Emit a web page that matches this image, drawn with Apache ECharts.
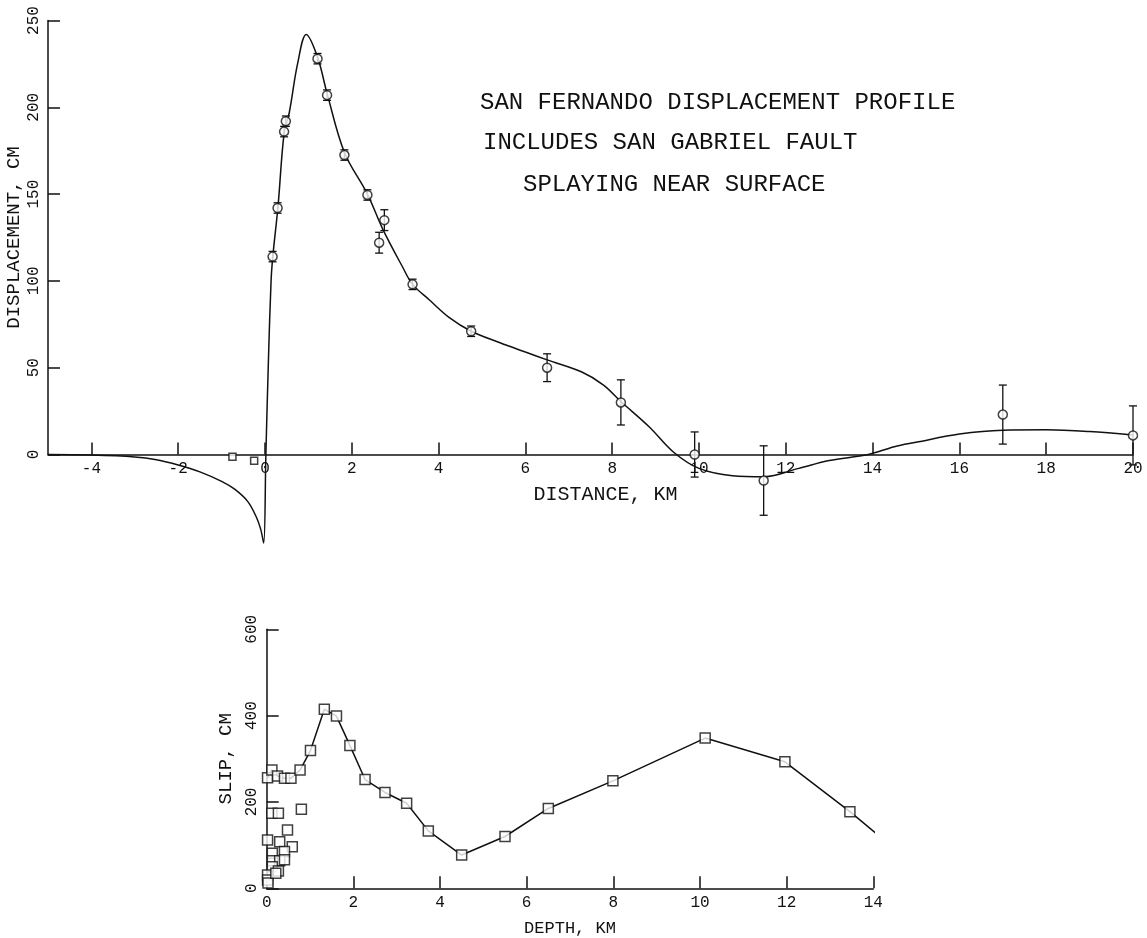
<!DOCTYPE html>
<html>
<head>
<meta charset="utf-8">
<title>San Fernando displacement profile</title>
<script src="https://cdn.jsdelivr.net/npm/echarts@6/dist/echarts.min.js"></script>
<style>
  html, body { margin: 0; padding: 0; background: #fff; }
  #chart { width: 1147px; height: 938px; }
</style>
</head>
<body>
<div id="chart"></div>
<script>
// --- data ---
// observed surface displacement (km, cm, +/- cm)
const obsX   = [0.175, 0.29, 0.44, 0.48, 1.21, 1.43, 1.83, 2.36, 2.63, 2.75, 3.4, 4.75, 6.5, 8.2, 9.9, 11.49, 17.0, 20.0]
const obsY   = [114, 142, 186, 192, 228, 207, 172.5, 149.5, 122, 135, 98, 71, 50, 30, 0, -15, 23, 11]
const obsErr = [3, 3, 3, 3, 3, 3, 3, 3, 6, 6, 3, 3, 8, 13, 13, 20, 17, 17]

// two small square points left of the fault
const hangX = [-0.75, -0.25]
const hangY = [-1.3, -3.6]

// computed profile
const curveX = [-5, -4, -3, -2.5, -2, -1.5, -1, -0.7, -0.4, -0.2, -0.1, -0.03, 0.02, 0.08, 0.14, 0.18, 0.3, 0.44, 0.56, 0.75, 0.95,
  1.21, 1.43, 1.83, 2.36, 2.71, 3.17, 3.4, 3.79, 4.24, 4.75, 5.4, 6.0, 6.5, 7.3, 7.8, 8.2, 8.85, 9.43, 10, 10.77, 11.5, 12.3, 13, 13.9,
  14.5, 15, 16, 17, 18, 19, 20]
const curveY = [0, -0.3, -1.4, -3, -6, -10, -15.5, -20, -27, -36, -43, -51, 0, 55, 100, 114, 143, 185, 197, 225, 242,
  229, 208, 174, 150, 130, 108, 98, 89, 79, 71, 64.5, 59, 54.5, 47.5, 40, 30.5, 16, 1, -8, -12.2, -12.8, -8, -3.5, 0,
  4.5, 7, 11.8, 14, 14.2, 13.2, 11.2]

// slip vs depth, connected points
const slipDepth = [0.02, 0.12, 0.25, 0.41, 0.56, 0.77, 1.01, 1.33, 1.61, 1.92, 2.27, 2.73, 3.23, 3.73, 4.5, 5.5, 6.5, 7.99, 10.12, 11.96, 13.46]
const slipCm    = [256, 274, 260, 255, 255, 274, 319, 415, 399, 331, 252, 222, 197, 133, 77, 120, 185, 249, 348, 293, 177.5]
const slipEndDepth = 14.2, slipEndCm = 116

// loose slip points near the surface
const looseDepth = [0.12, 0.27, 0.8, 0.02, 0.48, 0.3, 0.59, 0.13, 0.41, 0.13, 0.3, 0.41, 0.13, 0.27, 0.02, 0.02, 0.03, 0.21]
const looseCm    = [174, 174, 183, 112, 135, 108, 96, 81, 85, 64, 64, 66, 50, 40, 31, 19, 12, 35]

const distTicks  = [-4, -2, 0, 2, 4, 6, 8, 10, 12, 14, 16, 18, 20]

const FONT = 'Liberation Mono'
const INK = '#111'

let chart = echarts.init(document.getElementById('chart'))

function zip(a, b) {
  let out = []
  for (let i = 0; i < a.length; i++) out.push([a[i], b[i]])
  return out
}

// error bars drawn through the axis scale
function errorBar(params, api) {
  const x = api.value(0), y = api.value(1), e = api.value(2)
  const hi = api.coord([x, y + e])
  const lo = api.coord([x, y - e])
  const w = 4
  const st = { stroke: INK, lineWidth: 1.3 }
  return {
    type: 'group',
    children: [
      { type: 'line', shape: { x1: hi[0], y1: hi[1], x2: lo[0], y2: lo[1] }, style: st },
      { type: 'line', shape: { x1: hi[0] - w, y1: hi[1], x2: hi[0] + w, y2: hi[1] }, style: st },
      { type: 'line', shape: { x1: lo[0] - w, y1: lo[1], x2: lo[0] + w, y2: lo[1] }, style: st }
    ]
  }
}

const axisLine = { onZero: false, lineStyle: { color: INK, width: 1.5 } }
const tick = { inside: true, length: 12, lineStyle: { color: INK, width: 1.5 } }
const lbl = { color: INK, fontFamily: FONT, fontSize: 16 }

let option = {
  backgroundColor: '#fff',
  animation: false,
  grid: [
    { left: 48, right: 14, top: 20.5, bottom: 483.5, containLabel: false, outerBoundsMode: 'none' },
    { left: 266.7, right: 273.7, top: 629.3, bottom: 49.7, containLabel: false, outerBoundsMode: 'none' }
  ],
  xAxis: [
    {
      gridIndex: 0, type: 'value', min: -5, max: 20,
      name: 'DISTANCE, KM', nameLocation: 'middle', nameGap: 30,
      nameTextStyle: { color: INK, fontFamily: FONT, fontSize: 20, padding: [0, 0, 0, 30] },
      axisLine: axisLine,
      axisTick: Object.assign({ customValues: distTicks }, tick),
      axisLabel: Object.assign({ customValues: distTicks, margin: 6 }, lbl),
      splitLine: { show: false }
    },
    {
      gridIndex: 1, type: 'value', min: 0, max: 14, interval: 2,
      name: 'DEPTH, KM', nameLocation: 'middle', nameGap: 32,
      nameTextStyle: { color: INK, fontFamily: FONT, fontSize: 17 },
      axisLine: axisLine,
      axisTick: tick,
      axisLabel: Object.assign({ margin: 6 }, lbl),
      splitLine: { show: false }
    }
  ],
  yAxis: [
    {
      gridIndex: 0, type: 'value', min: 0, max: 250, interval: 50,
      name: 'DISPLACEMENT, CM', nameLocation: 'middle', nameRotate: 90, nameGap: 25,
      nameMoveOverlap: false,
      nameTextStyle: { color: INK, fontFamily: FONT, fontSize: 19 },
      axisLine: axisLine,
      axisTick: tick,
      axisLabel: Object.assign({ rotate: 90, margin: 6 }, lbl),
      splitLine: { show: false }
    },
    {
      gridIndex: 1, type: 'value', min: 0, max: 600, interval: 200,
      name: 'SLIP, CM', nameLocation: 'middle', nameRotate: 90, nameGap: 30,
      nameTextStyle: { color: INK, fontFamily: FONT, fontSize: 19 },
      axisLine: axisLine,
      axisTick: tick,
      axisLabel: Object.assign({ rotate: 90, margin: 7 }, lbl),
      splitLine: { show: false }
    }
  ],
  graphic: [
    { type: 'text', left: 480, top: 91, style: { text: 'SAN FERNANDO DISPLACEMENT PROFILE', fill: INK, font: '24px "' + FONT + '"' } },
    { type: 'text', left: 483, top: 131, style: { text: 'INCLUDES SAN GABRIEL FAULT', fill: INK, font: '24px "' + FONT + '"' } },
    { type: 'text', left: 523, top: 173, style: { text: 'SPLAYING NEAR SURFACE', fill: INK, font: '24px "' + FONT + '"' } }
  ],
  series: [
    {
      type: 'line', xAxisIndex: 0, yAxisIndex: 0,
      data: zip(curveX, curveY),
      showSymbol: false, smooth: 0.35, clip: false,
      lineStyle: { color: INK, width: 1.5 }
    },
    {
      type: 'custom', xAxisIndex: 0, yAxisIndex: 0, clip: false,
      renderItem: errorBar,
      encode: { x: 0, y: 1 },
      data: obsX.map((x, i) => [x, obsY[i], obsErr[i]]),
      z: 3
    },
    {
      type: 'scatter', xAxisIndex: 0, yAxisIndex: 0, clip: false,
      data: zip(obsX, obsY),
      symbol: 'circle', symbolSize: 9,
      itemStyle: { color: '#fff', borderColor: INK, borderWidth: 1.5 },
      z: 4
    },
    {
      type: 'scatter', xAxisIndex: 0, yAxisIndex: 0, clip: false,
      data: zip(hangX, hangY),
      symbol: 'rect', symbolSize: 7,
      itemStyle: { color: '#fff', borderColor: INK, borderWidth: 1.5 }
    },
    {
      type: 'line', xAxisIndex: 1, yAxisIndex: 1, clip: false,
      data: zip(slipDepth, slipCm).concat([[slipEndDepth, slipEndCm]]),
      showSymbol: false,
      lineStyle: { color: INK, width: 1.5 }
    },
    {
      type: 'scatter', xAxisIndex: 1, yAxisIndex: 1, clip: false,
      data: zip(slipDepth, slipCm).concat(zip(looseDepth, looseCm)),
      symbol: 'rect', symbolSize: 10,
      itemStyle: { color: '#fff', borderColor: INK, borderWidth: 1.5 },
      z: 4
    }
  ]
}

chart.setOption(option)
window.addEventListener('resize', function () {
  chart.resize()
})
</script>
</body>
</html>
